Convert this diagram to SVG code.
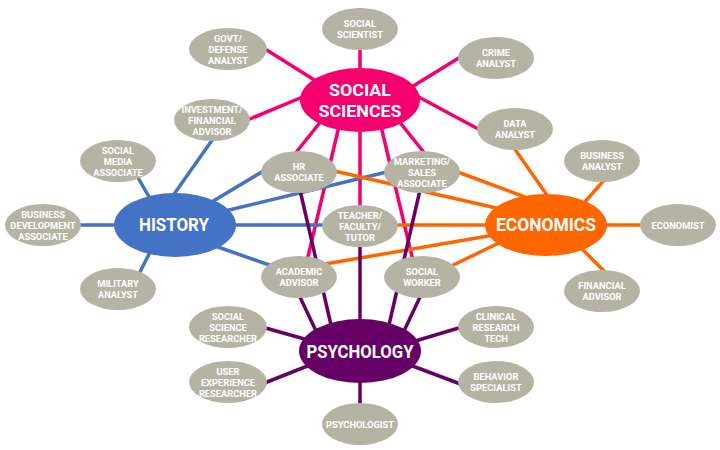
<svg xmlns="http://www.w3.org/2000/svg" width="720" height="450" viewBox="0 0 720 450">
<style>
.c line{stroke-width:3.5;fill:none}
.ss{stroke:#F5006E}
.hi{stroke:#4472C4}
.ec{stroke:#FF6600}
.ps{stroke:#660066}
.g ellipse{fill:#B5B4A4}
.g text{fill:#fff;font-family:Roboto,"Liberation Sans",sans-serif;font-weight:bold;font-size:9.3px;text-anchor:middle}
.m text{fill:#fff;font-family:Roboto,"Liberation Sans",sans-serif;font-weight:bold;font-size:19px;text-anchor:middle}
.m text.sm{font-size:17px}
</style>
<g id="connectors" class="c">
<line class="ss" x1="360" y1="45" x2="360" y2="75"/>
<line class="ss" x1="262" y1="47" x2="320" y2="83.5"/>
<line class="ss" x1="410" y1="88" x2="462" y2="56"/>
<line class="ss" x1="245" y1="121" x2="305" y2="96"/>
<line class="ss" x1="415" y1="95" x2="482" y2="131"/>
<line class="ss" x1="326" y1="115" x2="294" y2="155"/>
<line class="ss" x1="394" y1="115" x2="426" y2="155"/>
<line class="ss" x1="340" y1="122" x2="306" y2="265"/>
<line class="ss" x1="380" y1="122" x2="414" y2="265"/>
<line class="ss" x1="360" y1="125" x2="360" y2="212"/>
<line class="hi" x1="172" y1="197" x2="215" y2="136"/>
<line class="hi" x1="137" y1="176" x2="152" y2="202"/>
<line class="hi" x1="78" y1="225" x2="118" y2="225"/>
<line class="hi" x1="138" y1="276" x2="151" y2="250"/>
<line class="hi" x1="210" y1="203" x2="270" y2="167"/>
<line class="hi" x1="225" y1="211" x2="395" y2="170"/>
<line class="hi" x1="230" y1="225" x2="330" y2="225"/>
<line class="hi" x1="215" y1="246" x2="275" y2="267"/>
<line class="ec" x1="512" y1="145" x2="549" y2="198"/>
<line class="ec" x1="583" y1="204" x2="606" y2="178"/>
<line class="ec" x1="600" y1="225" x2="645" y2="225"/>
<line class="ec" x1="582" y1="249" x2="607" y2="274"/>
<line class="ec" x1="330" y1="170" x2="505" y2="210"/>
<line class="ec" x1="455" y1="171" x2="525" y2="197"/>
<line class="ec" x1="390" y1="225" x2="495" y2="225"/>
<line class="ec" x1="325" y1="264" x2="500" y2="234"/>
<line class="ec" x1="445" y1="269" x2="505" y2="240"/>
<line class="ps" x1="300" y1="190" x2="331" y2="325"/>
<line class="ps" x1="299" y1="295" x2="317" y2="333"/>
<line class="ps" x1="360" y1="240" x2="360" y2="325"/>
<line class="ps" x1="420" y1="190" x2="389" y2="325"/>
<line class="ps" x1="421" y1="295" x2="403" y2="333"/>
<line class="ps" x1="262" y1="327" x2="308" y2="340"/>
<line class="ps" x1="262" y1="384" x2="310" y2="365"/>
<line class="ps" x1="412" y1="342" x2="462" y2="327"/>
<line class="ps" x1="410" y1="365" x2="463" y2="385"/>
<line class="ps" x1="360" y1="378" x2="360" y2="408"/>
</g>
<g class="m">
<g id="social-sciences"><ellipse cx="360" cy="100" rx="60" ry="32" fill="#F5006E"/><text class="sm" x="360" y="96" textLength="62" lengthAdjust="spacingAndGlyphs">SOCIAL</text><text class="sm" x="360" y="116.5" textLength="83" lengthAdjust="spacingAndGlyphs">SCIENCES</text></g>
<g id="history"><ellipse cx="175" cy="225" rx="61" ry="32" fill="#4472C4"/><text x="174" y="231" textLength="70" lengthAdjust="spacingAndGlyphs">HISTORY</text></g>
<g id="economics"><ellipse cx="546" cy="225" rx="61" ry="31" fill="#FF6600"/><text x="546" y="231" textLength="100" lengthAdjust="spacingAndGlyphs">ECONOMICS</text></g>
<g id="psychology"><ellipse cx="360" cy="351" rx="61" ry="32" fill="#660066"/><text x="360" y="358" textLength="107" lengthAdjust="spacingAndGlyphs">PSYCHOLOGY</text></g>
</g>
<g class="g">
<g id="social-scientist"><ellipse cx="360" cy="29" rx="38" ry="21"/><text x="360" y="27">SOCIAL</text><text x="360" y="38">SCIENTIST</text></g>
<g id="govt-defense-analyst"><ellipse cx="228" cy="49" rx="39" ry="21"/><text x="228" y="42">GOVT/</text><text x="228" y="53">DEFENSE</text><text x="228" y="63.5">ANALYST</text></g>
<g id="crime-analyst"><ellipse cx="496" cy="58" rx="38" ry="21"/><text x="496" y="56">CRIME</text><text x="496" y="67">ANALYST</text></g>
<g id="investment-financial-advisor"><ellipse cx="212" cy="120" rx="38" ry="21"/><text x="212" y="113">INVESTMENT/</text><text x="212" y="124">FINANCIAL</text><text x="212" y="134.5">ADVISOR</text></g>
<g id="data-analyst"><ellipse cx="515" cy="129" rx="38" ry="21"/><text x="515" y="127">DATA</text><text x="515" y="138">ANALYST</text></g>
<g id="business-analyst"><ellipse cx="602" cy="161" rx="38" ry="21"/><text x="602" y="159">BUSINESS</text><text x="602" y="170">ANALYST</text></g>
<g id="economist"><ellipse cx="678" cy="225" rx="38" ry="21"/><text x="678" y="228.5">ECONOMIST</text></g>
<g id="financial-advisor"><ellipse cx="602" cy="291" rx="38" ry="21"/><text x="602" y="289">FINANCIAL</text><text x="602" y="300">ADVISOR</text></g>
<g id="social-media-associate"><ellipse cx="118" cy="161" rx="38" ry="21"/><text x="118" y="154">SOCIAL</text><text x="118" y="165">MEDIA</text><text x="118" y="175.5">ASSOCIATE</text></g>
<g id="business-development-associate"><ellipse cx="43" cy="225" rx="38" ry="21"/><text x="43" y="218">BUSINESS</text><text x="43" y="229">DEVELOPMENT</text><text x="43" y="239.5">ASSOCIATE</text></g>
<g id="military-analyst"><ellipse cx="118" cy="289" rx="38" ry="21"/><text x="118" y="287">MILITARY</text><text x="118" y="298">ANALYST</text></g>
<g id="hr-associate"><ellipse cx="299" cy="172" rx="38" ry="21"/><text x="299" y="170">HR</text><text x="299" y="181">ASSOCIATE</text></g>
<g id="marketing-sales-associate"><ellipse cx="422" cy="172" rx="38" ry="21"/><text x="422" y="165">MARKETING/</text><text x="422" y="176">SALES</text><text x="422" y="186.5">ASSOCIATE</text></g>
<g id="teacher-faculty-tutor"><ellipse cx="360" cy="226" rx="38" ry="21"/><text x="360" y="219">TEACHER/</text><text x="360" y="230">FACULTY/</text><text x="360" y="240.5">TUTOR</text></g>
<g id="academic-advisor"><ellipse cx="299" cy="277" rx="38" ry="21"/><text x="299" y="275">ACADEMIC</text><text x="299" y="286">ADVISOR</text></g>
<g id="social-worker"><ellipse cx="422" cy="277" rx="38" ry="21"/><text x="422" y="275">SOCIAL</text><text x="422" y="286">WORKER</text></g>
<g id="social-science-researcher"><ellipse cx="228" cy="327" rx="39" ry="21"/><text x="228" y="320">SOCIAL</text><text x="228" y="331">SCIENCE</text><text x="228" y="341.5">RESEARCHER</text></g>
<g id="user-experience-researcher"><ellipse cx="228" cy="382" rx="39" ry="21"/><text x="228" y="375">USER</text><text x="228" y="386">EXPERIENCE</text><text x="228" y="396.5">RESEARCHER</text></g>
<g id="clinical-research-tech"><ellipse cx="496" cy="327" rx="38" ry="21"/><text x="496" y="320">CLINICAL</text><text x="496" y="331">RESEARCH</text><text x="496" y="341.5">TECH</text></g>
<g id="behavior-specialist"><ellipse cx="496" cy="382" rx="38" ry="21"/><text x="496" y="380">BEHAVIOR</text><text x="496" y="391">SPECIALIST</text></g>
<g id="psychologist"><ellipse cx="360" cy="424" rx="38" ry="21"/><text x="360" y="427.5">PSYCHOLOGIST</text></g>
</g>
</svg>
